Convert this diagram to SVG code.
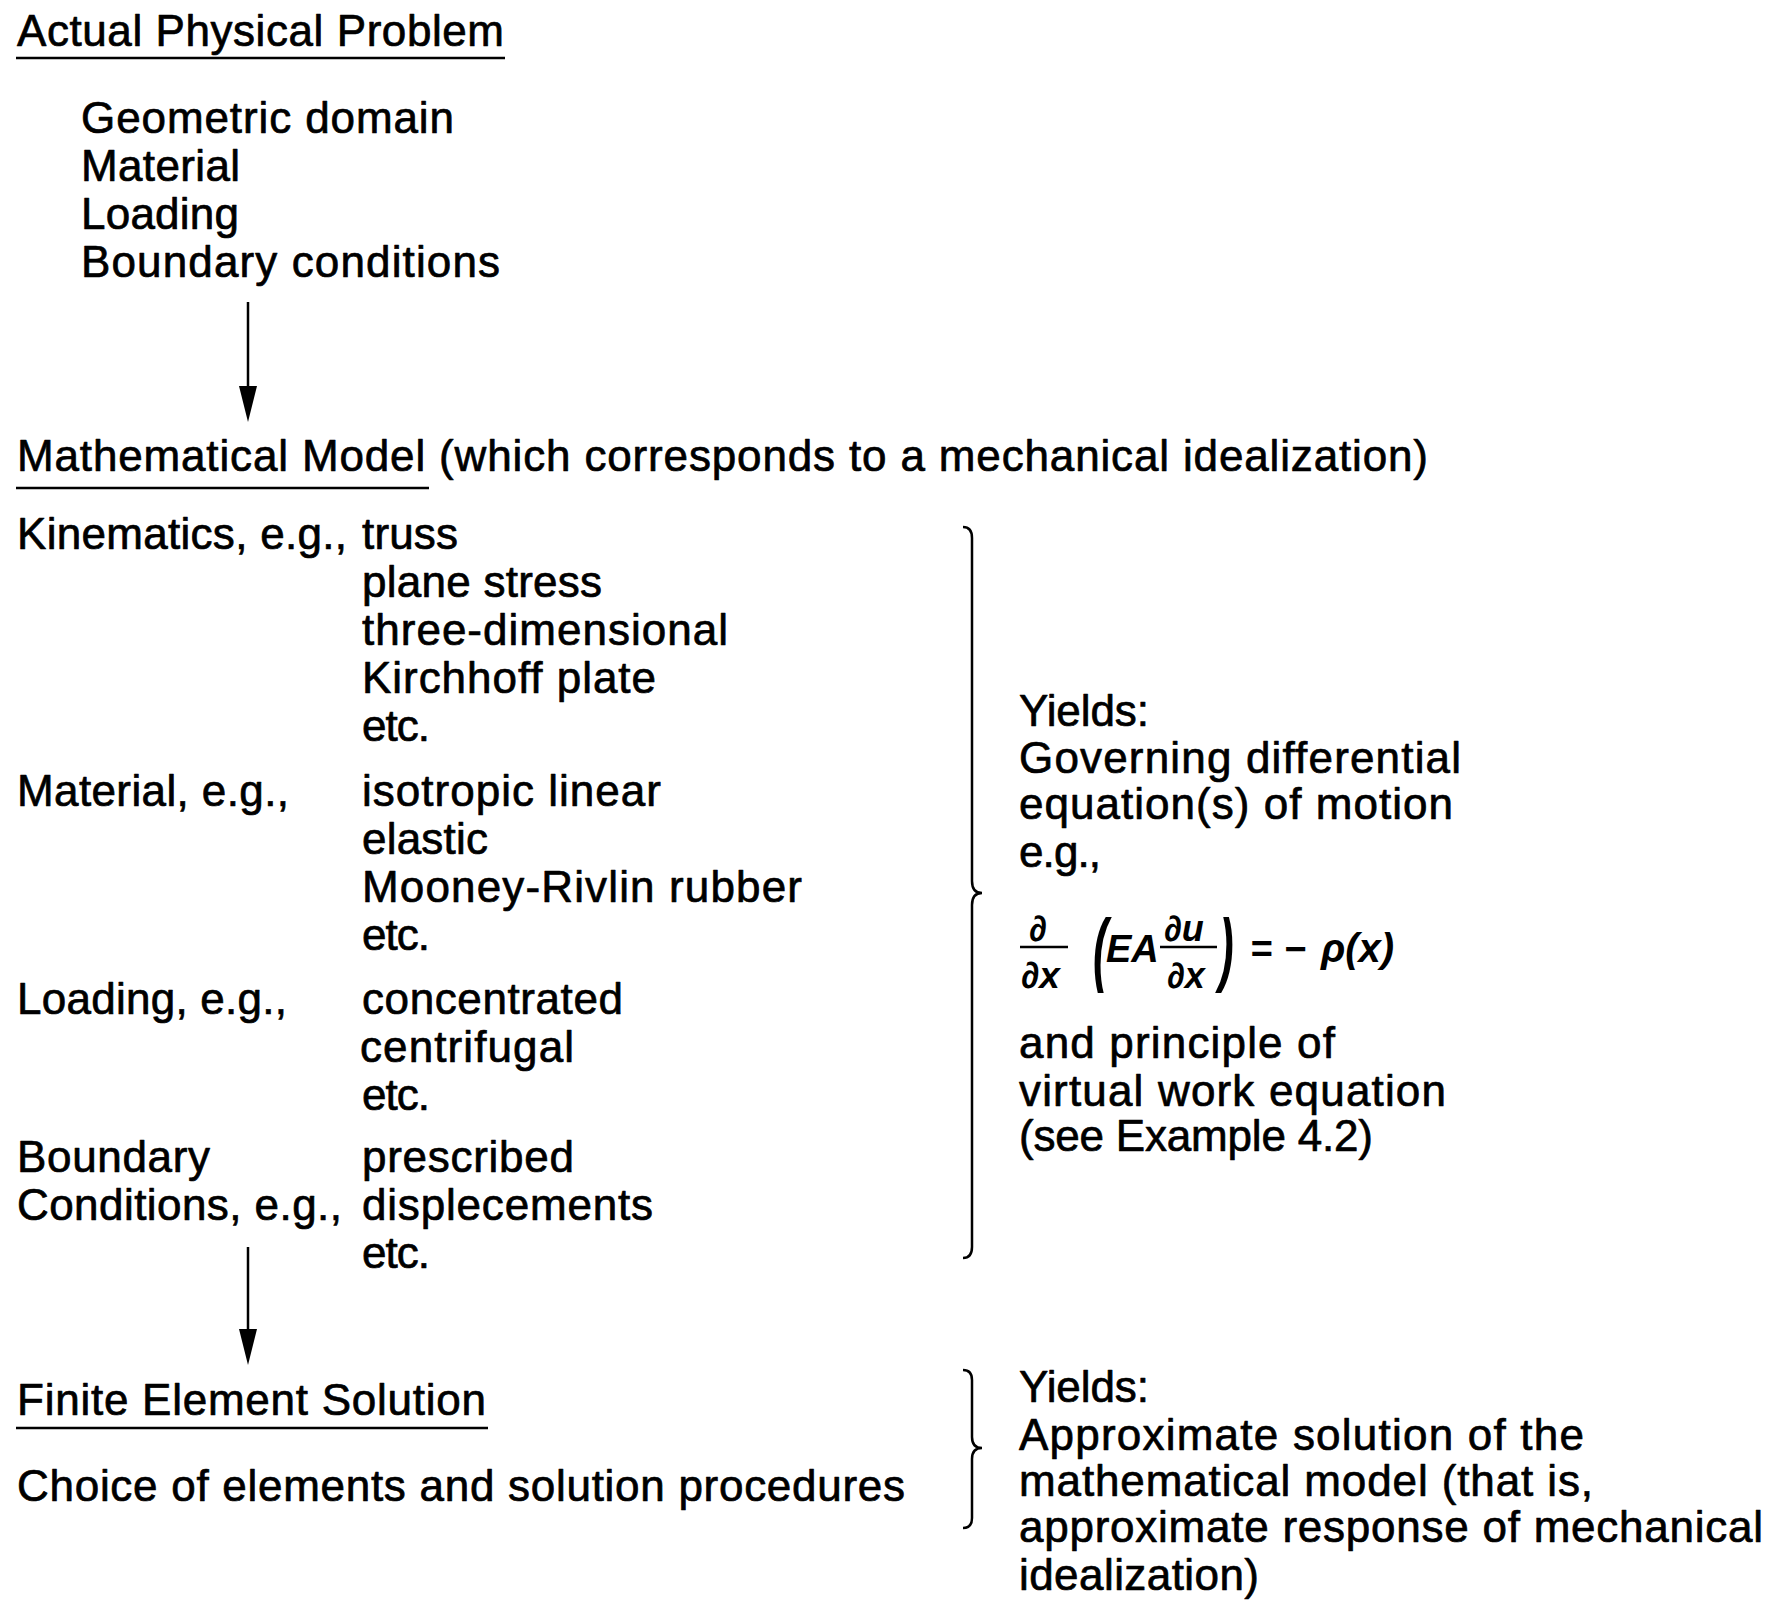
<svg xmlns="http://www.w3.org/2000/svg" width="1774" height="1600" viewBox="0 0 1774 1600">
<style>
.t{font-family:"Liberation Sans",Arial,sans-serif;font-size:44px;fill:#000;stroke:#000;stroke-width:0.7;stroke-linejoin:round}
.eq{font-family:"Liberation Sans",Arial,sans-serif;font-style:italic;font-weight:bold;fill:#000}
.ul{stroke:#000;stroke-width:2.5}
.bar{stroke:#000;stroke-width:2.4}
.conn{stroke:#000;stroke-width:2.5;fill:none;marker-end:url(#ah)}
.brace{stroke:#000;stroke-width:2.5;fill:none}
</style>
<defs>
<marker id="ah" markerUnits="userSpaceOnUse" viewBox="-16 -10 37 20" refX="0" refY="0" markerWidth="37" markerHeight="20" orient="auto">
<path d="M-16,-9 L20,0 L-16,9 Z" fill="#000"/>
</marker>
</defs>
<rect width="1774" height="1600" fill="#fff"/>

<g id="node-physical-problem">
<text class="t" x="17" y="46" textLength="487">Actual Physical Problem</text>
<line class="ul" x1="16" y1="58" x2="505" y2="58"/>
<text class="t" x="81" y="133" textLength="373">Geometric domain</text>
<text class="t" x="81" y="181" textLength="159">Material</text>
<text class="t" x="81" y="229" textLength="158">Loading</text>
<text class="t" x="81" y="277" textLength="419">Boundary conditions</text>
</g>

<g id="node-mathematical-model">
<text class="t" x="17" y="471" textLength="1411">Mathematical Model (which corresponds to a mechanical idealization)</text>
<line class="ul" x1="16" y1="488" x2="429" y2="488"/>
<text class="t" x="17" y="549" textLength="330">Kinematics, e.g.,</text>
<text class="t" x="362" y="549" textLength="96">truss</text>
<text class="t" x="362" y="597" textLength="240">plane stress</text>
<text class="t" x="362" y="645" textLength="366">three-dimensional</text>
<text class="t" x="362" y="693" textLength="294">Kirchhoff plate</text>
<text class="t" x="362" y="741" textLength="68">etc.</text>
<text class="t" x="17" y="806" textLength="272">Material, e.g.,</text>
<text class="t" x="362" y="806" textLength="299">isotropic linear</text>
<text class="t" x="362" y="854" textLength="126">elastic</text>
<text class="t" x="362" y="902" textLength="440">Mooney-Rivlin rubber</text>
<text class="t" x="362" y="950" textLength="68">etc.</text>
<text class="t" x="17" y="1014" textLength="270">Loading, e.g.,</text>
<text class="t" x="362" y="1014" textLength="261">concentrated</text>
<text class="t" x="360" y="1062" textLength="214">centrifugal</text>
<text class="t" x="362" y="1110" textLength="68">etc.</text>
<text class="t" x="17" y="1172" textLength="193">Boundary</text>
<text class="t" x="362" y="1172" textLength="212">prescribed</text>
<text class="t" x="17" y="1220" textLength="325">Conditions, e.g.,</text>
<text class="t" x="362" y="1220" textLength="291">displecements</text>
<text class="t" x="362" y="1268" textLength="68">etc.</text>
</g>

<g id="node-mathematical-yields">
<text class="t" x="1019" y="726" textLength="130">Yields:</text>
<text class="t" x="1019" y="773" textLength="442">Governing differential</text>
<text class="t" x="1019" y="819" textLength="434">equation(s) of motion</text>
<text class="t" x="1019" y="867" textLength="82">e.g.,</text>
<g id="equation">
<text class="eq" x="1038" y="941" font-size="36" text-anchor="middle">∂</text>
<line class="bar" x1="1020" y1="947" x2="1068" y2="947"/>
<text class="eq" x="1021" y="988" font-size="37">∂x</text>
<text class="eq" x="1093" y="976" font-size="44" font-style="normal" font-weight="normal" transform="translate(1093 976) scale(1 1.85) translate(-1093 -976)">(</text>
<text class="eq" x="1106" y="962" font-size="38">EA</text>
<text class="eq" x="1164" y="941" font-size="36">∂u</text>
<line class="bar" x1="1160" y1="947" x2="1217" y2="947"/>
<text class="eq" x="1167" y="988" font-size="36">∂x</text>
<text class="eq" x="1219" y="976" font-size="44" font-style="normal" font-weight="normal" transform="translate(1219 976) scale(1 1.85) translate(-1219 -976)">)</text>
<text class="eq" x="1250" y="962" font-size="38" font-style="normal">=</text>
<text class="eq" x="1284" y="962" font-size="38" font-style="normal">−</text>
<text class="eq" x="1321" y="962" font-size="40">ρ(x)</text>
</g>
<text class="t" x="1019" y="1058" textLength="316">and principle of</text>
<text class="t" x="1019" y="1106" textLength="427">virtual work equation</text>
<text class="t" x="1019" y="1151" textLength="354">(see Example 4.2)</text>
</g>

<g id="node-finite-element">
<text class="t" x="17" y="1415" textLength="469">Finite Element Solution</text>
<line class="ul" x1="16" y1="1428" x2="488" y2="1428"/>
<text class="t" x="17" y="1501" textLength="888">Choice of elements and solution procedures</text>
</g>

<g id="node-fe-yields">
<text class="t" x="1019" y="1402" textLength="130">Yields:</text>
<text class="t" x="1019" y="1450" textLength="565">Approximate solution of the</text>
<text class="t" x="1019" y="1496" textLength="574">mathematical model (that is,</text>
<text class="t" x="1019" y="1542" textLength="744">approximate response of mechanical</text>
<text class="t" x="1019" y="1590" textLength="240">idealization)</text>
</g>

<g id="braces">
<path class="brace" d="M963,527 Q972,527 972,538 L972,881 Q972,893 982,893 Q972,893 972,905 L972,1247 Q972,1258 963,1258"/>
<path class="brace" d="M963,1370 Q972,1370 972,1380 L972,1437 Q972,1448 982,1448 Q972,1448 972,1459 L972,1518 Q972,1528 963,1528"/>
</g>

<g id="connectors">
<line class="conn" x1="248" y1="302" x2="248" y2="402"/>
<line class="conn" x1="248" y1="1247" x2="248" y2="1345"/>
</g>
</svg>
